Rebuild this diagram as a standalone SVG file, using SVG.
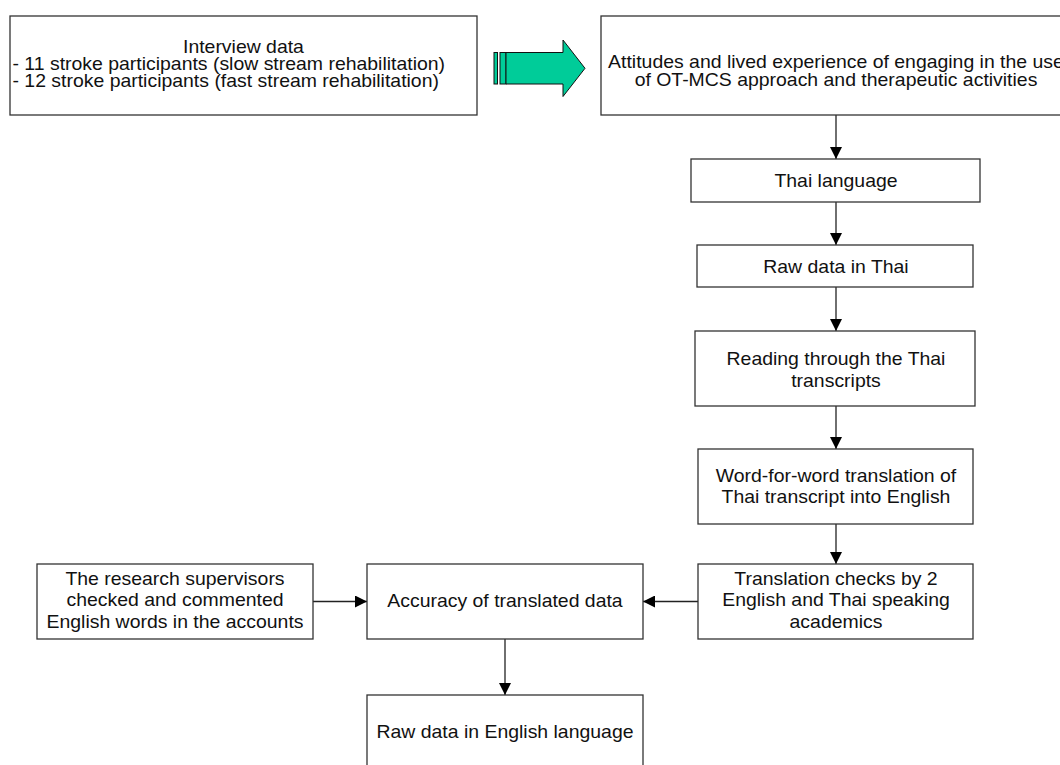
<svg xmlns="http://www.w3.org/2000/svg" width="1060" height="765" viewBox="0 0 1060 765">
  <style>
    .box { fill: #ffffff; stroke: #333333; stroke-width: 1.3; }
    .lbl { font-family: "Liberation Sans", Arial, sans-serif; font-size: 18px; fill: #111111; text-anchor: middle;
           transform-box: fill-box; transform-origin: center; transform: scaleX(1.08); }
    .left { text-anchor: start; transform-origin: left center; }
    .edge { fill: none; stroke: #222222; stroke-width: 1.3; marker-end: url(#head); }
    .big { fill: #00cc99; stroke: #111111; stroke-width: 1; }
  </style>
  <defs>
    <marker id="head" viewBox="0 0 12 12" refX="12" refY="6" markerWidth="12" markerHeight="12" markerUnits="userSpaceOnUse" orient="auto">
      <path d="M0,0 L12,6 L0,12 Z" fill="#000000"/>
    </marker>
  </defs>
  <rect width="1060" height="765" fill="#ffffff"/>

  <!-- block arrow between the two top boxes -->
  <g id="flow-arrow">
    <rect class="big" x="494" y="52.5" width="3.5" height="31.5"/>
    <rect class="big" x="500" y="52.5" width="6" height="31.5"/>
    <path class="big" d="M506,52.5 L563,52.5 L563,40 L585,68.3 L563,96.5 L563,84 L506,84 Z"/>
  </g>

  <g id="connectors">
    <line class="edge" x1="836" y1="115" x2="836" y2="159"/>
    <line class="edge" x1="836" y1="202" x2="836" y2="245"/>
    <line class="edge" x1="836" y1="287" x2="836" y2="331"/>
    <line class="edge" x1="836" y1="406" x2="836" y2="449"/>
    <line class="edge" x1="836" y1="524" x2="836" y2="564"/>
    <line class="edge" x1="698" y1="601.5" x2="643" y2="601.5"/>
    <line class="edge" x1="313" y1="601.5" x2="367" y2="601.5"/>
    <line class="edge" x1="505" y1="639" x2="505" y2="695"/>
  </g>

  <g id="interview-data">
    <rect class="box" x="10" y="16" width="467" height="99"/>
    <text class="lbl" x="243.5" y="53">Interview data</text>
    <text class="lbl left" x="12.5" y="70">- 11 stroke participants (slow stream rehabilitation)</text>
    <text class="lbl left" x="12.5" y="87">- 12 stroke participants (fast stream rehabilitation)</text>
  </g>

  <g id="attitudes">
    <rect class="box" x="601" y="16" width="470" height="99"/>
    <text class="lbl" x="836" y="68">Attitudes and lived experience of engaging in the use</text>
    <text class="lbl" x="836" y="86">of OT-MCS approach and therapeutic activities</text>
  </g>

  <g id="thai-language">
    <rect class="box" x="691" y="159" width="289" height="43"/>
    <text class="lbl" x="836" y="187">Thai language</text>
  </g>

  <g id="raw-thai">
    <rect class="box" x="697" y="245" width="276" height="42"/>
    <text class="lbl" x="836" y="273">Raw data in Thai</text>
  </g>

  <g id="reading">
    <rect class="box" x="695" y="331" width="280" height="75"/>
    <text class="lbl" x="836" y="365.5">Reading through the Thai</text>
    <text class="lbl" x="836" y="387">transcripts</text>
  </g>

  <g id="word-for-word">
    <rect class="box" x="698" y="449" width="275" height="75"/>
    <text class="lbl" x="836" y="482">Word-for-word translation of</text>
    <text class="lbl" x="836" y="503.5">Thai transcript into English</text>
  </g>

  <g id="translation-checks">
    <rect class="box" x="698" y="564" width="275" height="75"/>
    <text class="lbl" x="836" y="585">Translation checks by 2</text>
    <text class="lbl" x="836" y="606.5">English and Thai speaking</text>
    <text class="lbl" x="836" y="628">academics</text>
  </g>

  <g id="supervisors">
    <rect class="box" x="37" y="564" width="276" height="75"/>
    <text class="lbl" x="175" y="585">The research supervisors</text>
    <text class="lbl" x="175" y="606.5">checked and commented</text>
    <text class="lbl" x="175" y="628">English words in the accounts</text>
  </g>

  <g id="accuracy">
    <rect class="box" x="367" y="564" width="276" height="75"/>
    <text class="lbl" x="505" y="607.5">Accuracy of translated data</text>
  </g>

  <g id="raw-english">
    <rect class="box" x="367" y="695" width="276" height="75"/>
    <text class="lbl" x="505" y="738">Raw data in English language</text>
  </g>
</svg>
